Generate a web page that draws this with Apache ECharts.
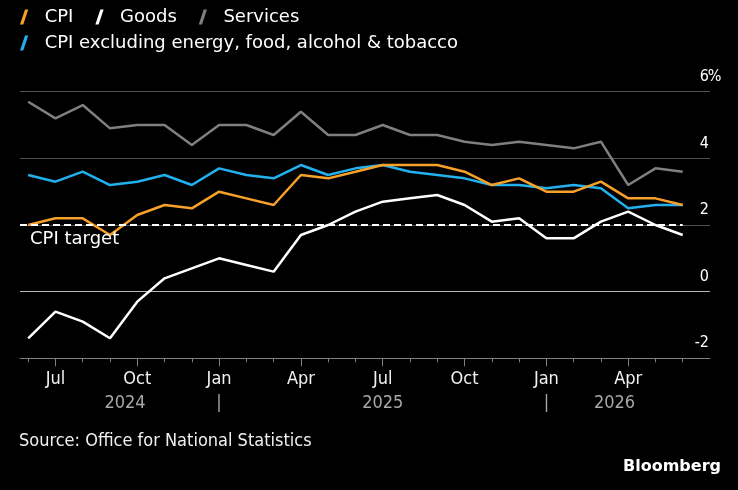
<!DOCTYPE html>
<html>
<head>
<meta charset="utf-8">
<script src="https://cdn.jsdelivr.net/npm/echarts@6/dist/echarts.min.js"></script>
<style>
  html, body { margin: 0; padding: 0; background: #000; }
  #chart { width: 738px; height: 490px; }
</style>
</head>
<body>
<div id="chart"></div>
<script>
// monthly, Jun 2024 .. Jun 2026
const months = ['Jun 2024', 'Jul 2024', 'Aug 2024', 'Sep 2024', 'Oct 2024', 'Nov 2024', 'Dec 2024',
  'Jan 2025', 'Feb 2025', 'Mar 2025', 'Apr 2025', 'May 2025', 'Jun 2025', 'Jul 2025', 'Aug 2025',
  'Sep 2025', 'Oct 2025', 'Nov 2025', 'Dec 2025', 'Jan 2026', 'Feb 2026', 'Mar 2026', 'Apr 2026',
  'May 2026', 'Jun 2026']
const cpi = [2.0, 2.2, 2.2, 1.7, 2.3, 2.6, 2.5, 3.0, 2.8, 2.6, 3.5, 3.4, 3.6, 3.8, 3.8, 3.8, 3.6, 3.2, 3.4, 3.0, 3.0, 3.3, 2.8, 2.8, 2.6]
const goods = [-1.4, -0.6, -0.9, -1.4, -0.3, 0.4, 0.7, 1.0, 0.8, 0.6, 1.7, 2.0, 2.4, 2.7, 2.8, 2.9, 2.6, 2.1, 2.2, 1.6, 1.6, 2.1, 2.4, 2.0, 1.7]
const services = [5.7, 5.2, 5.6, 4.9, 5.0, 5.0, 4.4, 5.0, 5.0, 4.7, 5.4, 4.7, 4.7, 5.0, 4.7, 4.7, 4.5, 4.4, 4.5, 4.4, 4.3, 4.5, 3.2, 3.7, 3.6]
const core = [3.5, 3.3, 3.6, 3.2, 3.3, 3.5, 3.2, 3.7, 3.5, 3.4, 3.8, 3.5, 3.7, 3.8, 3.6, 3.5, 3.4, 3.2, 3.2, 3.1, 3.2, 3.1, 2.5, 2.6, 2.6]
const cpiTarget = 2
const yTicks = [-2, 0, 2, 4, 6]
const yearLabels = ['2024', '|', '2025', '|', '2026']
const yearPos = [3.55, 7, 13, 19, 21.5]

const CORE_NAME = 'CPI excluding energy, food, alcohol & tobacco'
const F = 'DejaVu Sans'
const FC = 'DejaVu Sans Condensed'
const X_MIN = -0.3
const X_MAX = 25

const monthIdx = months.map((m, i) => i)
const quarterIdx = monthIdx.filter((i) => /^(Jan|Apr|Jul|Oct)/.test(months[i]))
const toPairs = (arr) => arr.map((v, i) => [i, v])

const slash = 'path://M0,12 L4,0 L6.6,0 L2.6,12 Z'
const legendBase = {
  padding: 0,
  icon: slash, itemWidth: 9, itemHeight: 15, itemGap: 22,
  itemStyle: { borderWidth: 0 },
  textStyle: { color: '#fff', fontSize: 18, fontFamily: F, lineHeight: 20, padding: [0, 0, 0, 11] },
}

const chart = echarts.init(document.getElementById('chart'))
const option = {
  backgroundColor: '#000',
  animation: false,
  title: [
    {
      text: 'Source: Office for National Statistics',
      left: 19, top: 431, padding: 0,
      textStyle: { color: '#f0f0f0', fontSize: 18, fontWeight: 'normal', fontFamily: FC, lineHeight: 20 },
    },
    {
      text: 'Bloomberg',
      right: 17, top: 458, padding: 0,
      textStyle: { color: '#fff', fontSize: 16, fontWeight: 'bold', fontFamily: F, lineHeight: 18 },
    },
  ],
  legend: [
    Object.assign({}, legendBase, { data: ['CPI', 'Goods', 'Services'], left: 20, top: 7 }),
    Object.assign({}, legendBase, { data: [CORE_NAME], left: 20, top: 33 }),
  ],
  grid: { left: 20, right: 28, top: 91.7, bottom: 131.7 },
  xAxis: [
    {
      type: 'value', min: X_MIN, max: X_MAX, position: 'bottom',
      axisLine: { show: true, onZero: false, lineStyle: { color: '#808080', width: 1 } },
      axisTick: { show: true, customValues: monthIdx, length: 4, lineStyle: { color: '#808080' } },
      splitLine: { show: false },
      axisLabel: {
        show: true, customValues: yearPos, margin: 36,
        formatter: (v) => yearLabels[yearPos.indexOf(v)] || '',
        color: '#a8a8a8', fontSize: 18, fontFamily: FC,
      },
    },
    {
      type: 'value', min: X_MIN, max: X_MAX, position: 'bottom',
      axisLine: { show: false, onZero: false },
      axisTick: { show: true, customValues: quarterIdx, length: 8, lineStyle: { color: '#808080' } },
      splitLine: { show: false },
      axisLabel: {
        show: true, customValues: quarterIdx, margin: 12,
        formatter: (v) => (months[v] || '').slice(0, 3),
        color: '#f2f2f2', fontSize: 18, fontFamily: FC,
      },
    },
  ],
  yAxis: {
    type: 'value', position: 'right', min: -2, max: 6, interval: 2,
    axisLine: { show: false },
    axisTick: { show: false },
    splitLine: {
      show: true,
      lineStyle: { color: ['#808080', '#b5b5b5', '#505050', '#505050', '#505050'], width: 1 },
    },
    axisLabel: {
      align: 'right', margin: 10, verticalAlign: 'bottom', padding: [0, 0, 7, 0],
      formatter: (v) => (v === yTicks[yTicks.length - 1] ? '{n|' + v + '}{s|%}' : '{n|' + v + '}{s|}'),
      rich: {
        n: { color: '#fff', fontSize: 16, fontFamily: FC },
        s: { color: '#fff', fontSize: 16, fontFamily: FC, width: 11, align: 'left' },
      },
    },
  },
  series: [
    {
      name: 'Services', type: 'line', data: toPairs(services), showSymbol: false, symbol: 'none',
      color: '#7f7f7f', lineStyle: { width: 2.5, color: '#7f7f7f' },
      markLine: {
        silent: true, symbol: 'none',
        lineStyle: { color: '#fff', type: [7, 4], width: 2 },
        label: {
          show: true, position: 'insideStartBottom', formatter: 'CPI target', distance: [10, 5],
          color: '#fff', fontSize: 18, fontFamily: F,
        },
        data: [[{ coord: [X_MIN, cpiTarget] }, { coord: [monthIdx[monthIdx.length - 1], cpiTarget] }]],
      },
    },
    {
      name: 'Goods', type: 'line', data: toPairs(goods), showSymbol: false, symbol: 'none',
      color: '#ffffff', lineStyle: { width: 2.5, color: '#ffffff' },
    },
    {
      name: CORE_NAME, type: 'line', data: toPairs(core), showSymbol: false, symbol: 'none',
      color: '#22b1ee', lineStyle: { width: 2.5, color: '#22b1ee' },
    },
    {
      name: 'CPI', type: 'line', data: toPairs(cpi), showSymbol: false, symbol: 'none',
      color: '#f7a12a', lineStyle: { width: 2.5, color: '#f7a12a' },
    },
  ],
}
option && chart.setOption(option)
</script>
</body>
</html>
